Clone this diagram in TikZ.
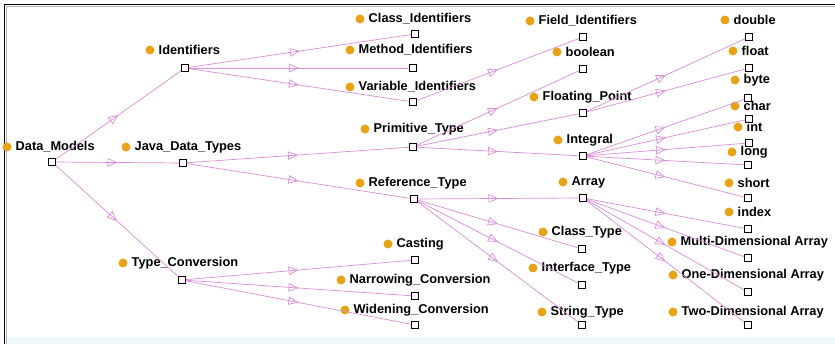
\documentclass[tikz,border=0pt]{standalone}
\usepackage{fontspec}
\setmainfont{Liberation Sans}
\usetikzlibrary{arrows.meta,decorations.markings}
\definecolor{edgec}{RGB}{218,140,218}
\definecolor{dotc}{RGB}{232,162,22}
\newcommand{\cpt}[6]{%
  \node[dotn] (#1d) at (#2,#3) {};
  \node[lbl] (#1l) at (#2+8.5,#3) {#4};
  \node[sq] (#1) at (#5,#6) {};}
\begin{document}
\begin{tikzpicture}[x=1pt,y=-1pt,
  lbl/.style={anchor=west,inner sep=0pt,font=\fontsize{12.8}{14}\selectfont\bfseries},
  sq/.style={draw=black,fill=white,line width=0.9pt,minimum size=7pt,inner sep=0pt},
  isa/.style={draw=edgec,line width=0.7pt,postaction={decorate},
    decoration={markings,mark=at position 0.5 with {\arrow{Triangle[open,length=10pt,width=8.5pt]}}}},
  dotn/.style={circle,fill=dotc,inner sep=0pt,minimum size=9pt}]
\useasboundingbox (0,0) rectangle (835,344);
\fill[cyan!6] (5,337) rectangle (835,344);
\draw[gray!60,line width=1pt] (6.5,344) -- (6.5,6.5) -- (835,6.5);
\draw[black,line width=1.6pt] (4.5,344) -- (4.5,4.5) -- (835,4.5);
% concepts
\cpt{dm}{7}{147}{Data\_Models}{52}{162}
\cpt{id}{150}{50}{Identifiers}{185}{68}
\cpt{jdt}{126}{147}{Java\_Data\_Types}{183}{163}
\cpt{tc}{123}{263}{Type\_Conversion}{182}{280}
\cpt{ci}{360}{19}{Class\_Identifiers}{415}{34}
\cpt{mi}{350}{50}{Method\_Identifiers}{413}{68}
\cpt{vi}{350}{87}{Variable\_Identifiers}{413}{102}
\cpt{pt}{365}{129}{Primitive\_Type}{413}{147}
\cpt{rt}{360}{183}{Reference\_Type}{414}{199}
\cpt{ca}{388}{244}{Casting}{415}{260}
\cpt{nc}{341}{280}{Narrowing\_Conversion}{415}{296}
\cpt{wc}{345}{310}{Widening\_Conversion}{415}{325}
\cpt{fi}{530}{21}{Field\_Identifiers}{583}{37}
\cpt{bo}{557}{52}{boolean}{583}{69}
\cpt{fp}{534}{97}{Floating\_Point}{583}{113}
\cpt{ig}{558}{140}{Integral}{583}{156}
\cpt{ar}{563}{182}{Array}{583}{198}
\cpt{ct}{543}{232}{Class\_Type}{582}{249}
\cpt{it}{533}{268}{Interface\_Type}{582}{285}
\cpt{st}{542}{312}{String\_Type}{582}{325}
\cpt{db}{725}{20}{double}{749}{37}
\cpt{fl}{733}{51}{float}{749}{68}
\cpt{by}{735}{80}{byte}{748}{98}
\cpt{ch}{735}{106}{char}{749}{119}
\cpt{in}{738}{127}{int}{749}{143}
\cpt{lo}{732}{152}{long}{748}{165}
\cpt{sh}{729}{183}{short}{748}{198}
\cpt{ix}{729}{212}{index}{748}{229}
\cpt{md}{672}{242}{Multi-Dimensional Array}{748}{258}
\cpt{od}{673}{275}{One-Dimensional Array}{748}{292}
\cpt{td}{673}{312}{Two-Dimensional Array}{748}{325}
% edges
\foreach \a/\b in {dm/id,dm/jdt,dm/tc,id/ci,id/mi,id/vi,jdt/pt,jdt/rt,
  tc/ca,tc/nc,tc/wc,vi/fi,pt/bo,pt/fp,pt/ig,rt/ar,rt/ct,rt/it,rt/st,
  fp/db,fp/fl,ig/by,ig/ch,ig/in,ig/lo,ig/sh,ar/ix,ar/md,ar/od,ar/td}
  \draw[isa] (\a) -- (\b);
\end{tikzpicture}
\end{document}
